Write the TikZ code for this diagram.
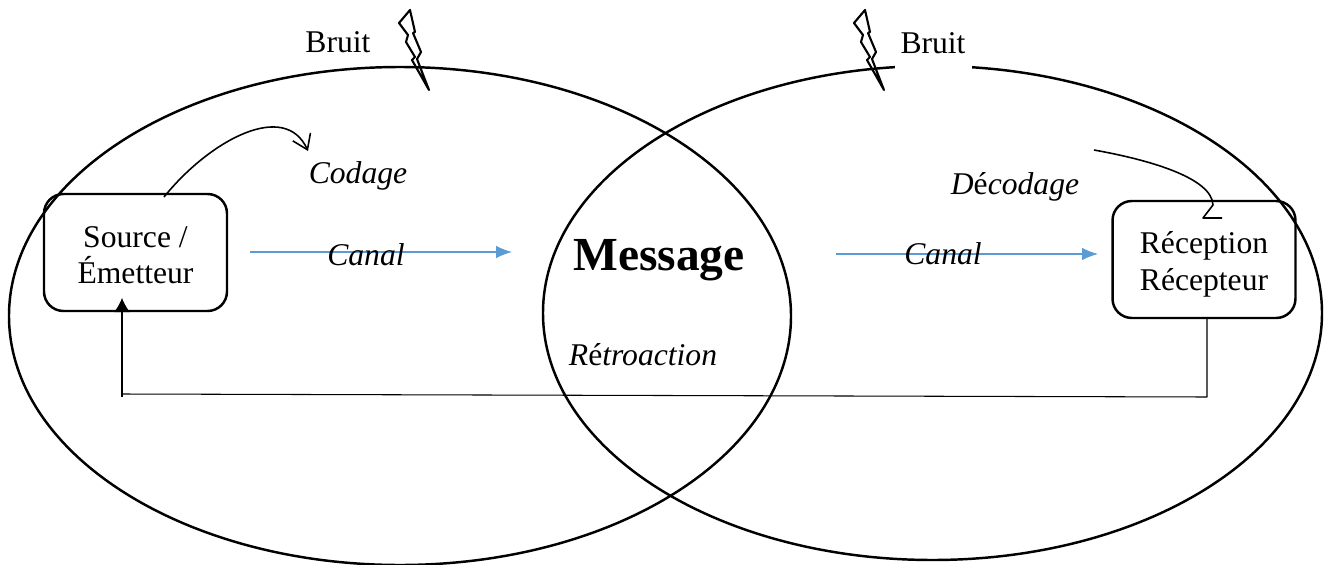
\documentclass[tikz,border=0pt]{standalone}
\usepackage{fontspec}
\setmainfont{Liberation Serif}
\usetikzlibrary{arrows.meta}
\tikzset{>=latex}
\definecolor{canalblue}{HTML}{5B9BD5}
\tikzset{
    zone/.style={draw, line width=1.4pt},
    box/.style={draw, fill=white, line width=1.4pt, rounded corners=11pt, minimum width=3.66cm, minimum height=2.34cm, align=center, font=\fontsize{18}{21}\selectfont},
    label/.style={font=\fontsize{18}{21}\selectfont},
    channel/.style={->, color=canalblue, line width=0.6pt, >={Latex[length=9pt,width=7pt]}},
    link/.style={line width=0.6pt},
    curve/.style={line width=0.9pt},
}

\begin{document}
\begin{tikzpicture}[x=0.02cm, y=-0.02cm, line join = round]
    \useasboundingbox (0,0) rectangle (1330,565);
    \node[box] (source) at (135.5,252.5) {\rule{0pt}{15pt}Source /\\Émetteur};
    \node[box] (reception) at (1204,259.5) {\rule{0pt}{18pt}Réception\\Récepteur};

    \begin{scope}
    \clip (0,0) rectangle (1330,565);
    \draw[zone] (400,316) ellipse (391 and 249);
    \draw[zone] (932.5,313) ellipse (389.5 and 247);
    \end{scope}

    \node[label] (bruitleft) at (338,42) {Bruit};
    \node[label, fill=white, anchor=base, inner xsep=0.12cm, inner ysep=0pt, text height=0.54cm, text depth=0.34cm] (bruitright) at (933,53) {Bruit};
    \node[label] (codage) at (358,176) {\textit{Codage}};
    \node[label] (decodage) at (1015,187) {\textit{D\textup{é}codage}};
    \node[label] (retroaction) at (643,355) {\textit{R\textup{é}troaction}};
    \node[font=\fontsize{27}{32}\selectfont\bfseries] (message) at (659,260) {Message};

    % canal arrows
    \coordinate (canalAstart) at (250,252);
    \coordinate (canalAend) at (512,252);
    \coordinate (canalBstart) at (836,254);
    \coordinate (canalBend) at (1098,254);
    \draw[channel] (canalAstart) -- (canalAend);
    \draw[channel] (canalBstart) -- (canalBend);
    \node[label] (canalA) at (366,255) {\textit{Canal}};
    \node[label] (canalB) at (943,254) {\textit{Canal}};

    % curved arrows
    \coordinate (codestart) at (164,197);
    \coordinate (codeend) at (308,151);
    \draw[curve, -{Straight Barb[length=8pt,width=11pt]}] (codestart) .. controls (210,140) and (285,100) .. (codeend);
    \coordinate (decodestart) at (1094,150);
    \coordinate (decodeend) at (1213,205);
    \draw[curve] (decodestart) .. controls (1150,160) and (1212,178) .. (decodeend) -- (1203,218) -- (1222,218);

    % feedback
    \coordinate (backright) at (1207,397);
    \coordinate (backleft) at (122,394);
    \coordinate (backtip) at (122,298);
    \draw[link] (reception.south -| backright) -- (backright) -- (backleft);
    \draw[link, ->, >={Latex[length=8pt,width=9pt]}] (122,397) -- (backtip);

    % bolts
    \foreach \dx in {0,455} {
        \draw[line width=1.2pt, shift={(\dx,0)}] (410,10) -- (399,23) -- (408,35) -- (406,42) -- (415,57) -- (412,60) -- (429,90) -- (417,59) -- (421,52) -- (413,33) -- (415,32) -- cycle;
    }
\end{tikzpicture}
\end{document}
